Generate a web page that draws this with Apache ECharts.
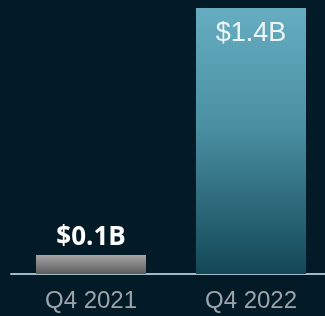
<!DOCTYPE html>
<html><head><meta charset="utf-8">
<script src="https://cdn.jsdelivr.net/npm/echarts@6/dist/echarts.min.js"></script>
<style>html,body{margin:0;padding:0;background:#021b27;}#c{width:325px;height:316px;}</style>
</head><body><div id="c"></div>
<script>
var categories = ['Q4 2021', 'Q4 2022'];
var values = [0.1, 1.4];
var valueLabels = ['$0.1B', '$1.4B'];

var chart = echarts.init(document.getElementById('c'), null, {renderer: 'canvas'});
chart.setOption({
  backgroundColor: '#021b27',
  animation: false,
  grid: {left: 11, right: -6, top: 8, bottom: 42, containLabel: false, outerBoundsMode: 'none'},
  xAxis: {
    type: 'category',
    data: categories,
    axisLine: {lineStyle: {color: '#9fbcc8', width: 2}},
    axisTick: {show: false},
    axisLabel: {color: '#9ba4a9', fontSize: 24, fontFamily: 'Liberation Sans', margin: 15}
  },
  yAxis: {type: 'value', min: 0, max: 1.4, show: false, splitLine: {show: false}},
  series: [{
    type: 'bar',
    barWidth: 110,
    data: [
      {value: values[0],
       itemStyle: {color: new echarts.graphic.LinearGradient(0,0,0,1,[{offset:0,color:'#a5a5a5'},{offset:1,color:'#5c5c5c'}])},
       label: {show: true, position: 'top', distance: 4, formatter: valueLabels[0], color: '#ffffff', fontSize: 26, fontWeight: 'bold', fontFamily: 'Open Sans'}},
      {value: values[1],
       itemStyle: {color: new echarts.graphic.LinearGradient(0,0,0,1,[{offset:0,color:'#67adc1'},{offset:0.45,color:'#4a8fa2'},{offset:1,color:'#124857'}])},
       label: {show: true, position: 'insideTop', distance: 12, formatter: valueLabels[1], color: '#eef5f7', fontSize: 27, fontFamily: 'Liberation Sans'}}
    ]
  }]
});
</script></body></html>
